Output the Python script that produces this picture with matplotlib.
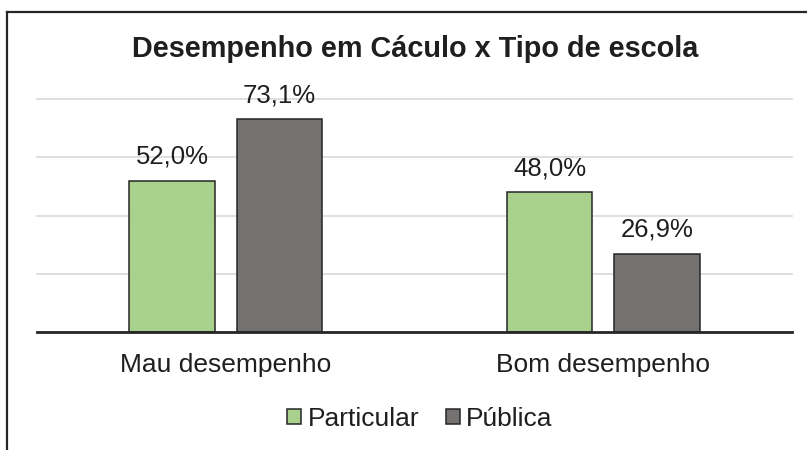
import numpy as np
import matplotlib
matplotlib.use("Agg")
import matplotlib.pyplot as plt
from matplotlib.lines import Line2D

plt.rcParams['font.family'] = ['Liberation Sans', 'DejaVu Sans']

# data
categories = ["Mau desempenho", "Bom desempenho"]
series_names = ["Particular", "Pública"]
particular = [0.520, 0.480]
publica = [0.731, 0.269]
value_labels = [["52,0%", "48,0%"], ["73,1%", "26,9%"]]
grid_ticks = [0.2, 0.4, 0.6, 0.8]

green = "#A9D18E"
gray = "#767171"
edge = "#262626"
txt = "#1f1f1f"

fig = plt.figure(figsize=(8.07, 4.5), dpi=100)
ax = fig.add_axes([37 / 807, 1 - 332 / 450, 755 / 807, 233 / 450])

x = np.arange(len(categories))
w = 0.227
off = 0.142
b1 = ax.bar(x - off, particular, w, color=green, edgecolor=edge, linewidth=1.1, label=series_names[0], zorder=3)
b2 = ax.bar(x + off, publica, w, color=gray, edgecolor=edge, linewidth=1.1, label=series_names[1], zorder=3)

for bars, labels in zip([b1, b2], value_labels):
    for rect, lab in zip(bars, labels):
        ax.annotate(lab, (rect.get_x() + rect.get_width() / 2, rect.get_height()),
                    xytext=(0, 12), textcoords="offset points", ha="center", va="baseline",
                    fontsize=18.5, color=txt)

ax.set_xlim(-0.5, 1.5)
ax.set_ylim(0, 0.8)
ax.set_yticks(grid_ticks)
ax.yaxis.grid(True, color="#D9D9D9", linewidth=1.2, zorder=0)
for gl in ax.get_ygridlines():
    gl.set_clip_on(False)
ax.tick_params(axis="y", length=0, labelleft=False)
ax.set_xticks(x)
ax.set_xticklabels(categories, fontsize=19, color=txt)
ax.tick_params(axis="x", length=0, pad=15)
for s in ["top", "right", "left"]:
    ax.spines[s].set_visible(False)
ax.spines["bottom"].set_color(edge)
ax.spines["bottom"].set_linewidth(2)
ax.spines["bottom"].set_zorder(4)

fig.text(415 / 807, 1 - 57 / 450, "Desempenho em Cáculo x Tipo de escola",
         ha="center", va="baseline", fontsize=20.8, fontweight="bold", color=txt)

fig.legend(handles=[b1, b2], labels=series_names, loc="center", bbox_to_anchor=(420 / 807, 1 - 419 / 450),
           ncol=2, frameon=False, fontsize=19, handlelength=0.53, handleheight=0.53,
           handletextpad=0.25, columnspacing=1.0, labelcolor=txt)

# outer chart frame (left and top edges visible in the crop)
fig.add_artist(Line2D([7 / 807, 7 / 807], [0, 1 - 12 / 450], transform=fig.transFigure, color=edge, linewidth=1.6))
fig.add_artist(Line2D([7 / 807, 1], [1 - 12 / 450, 1 - 12 / 450], transform=fig.transFigure, color=edge, linewidth=1.6))

fig.savefig("out.png", dpi=100)
